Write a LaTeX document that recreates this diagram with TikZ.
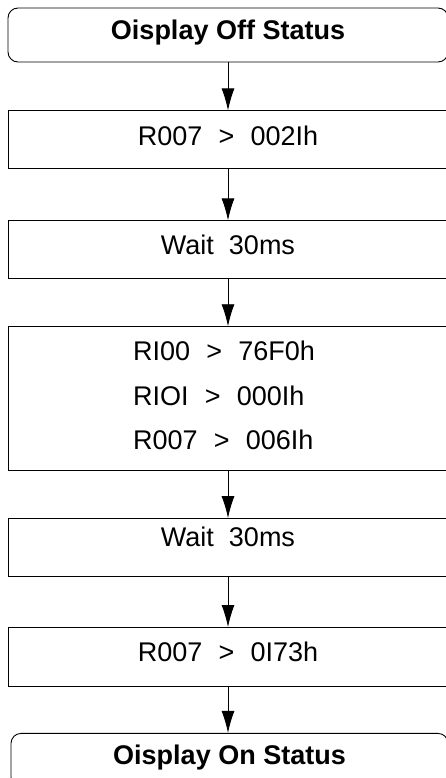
\documentclass[tikz,border=0pt]{standalone}
\usepackage{fontspec}
\setmainfont{Liberation Sans}
\usetikzlibrary{positioning,arrows.meta}
\newcommand{\setto}{\hspace{0.6em}>\hspace{0.6em}}

\begin{document}
\begin{tikzpicture}[auto, node distance=48pt,
    font=\fontsize{27pt}{32pt}\selectfont]
    \tikzstyle{term} = [draw, rounded corners=10pt, line width=0.9pt,
    minimum width=440pt, minimum height=54pt, inner sep=0pt,
    text height=19.7pt, text depth=11pt, font=\fontsize{27pt}{32pt}\selectfont\bfseries]
    \tikzstyle{block} = [draw, rectangle, line width=0.9pt, inner sep=0pt,
    minimum width=440pt, minimum height=58pt, text height=19.7pt, text depth=8pt]
    \tikzstyle{line} = [draw, line width=0.9pt, -{Latex[length=22pt,width=13pt]}]
    \useasboundingbox (0,0) rectangle (446pt,-778pt);
    \node [term] at (228pt,-35pt) (offstat) {Oisplay Off Status};
    \node [block, below=48pt of offstat] (setone) {R007\setto 002Ih};
    \node [block, below=51pt of setone, text depth=10pt] (waitone) {Wait~~30ms};
    \node [block, below=47pt of waitone, minimum height=144pt] (setmany) {};
    \node [align=left, xshift=-4pt, yshift=3pt, inner sep=0pt,
        font=\fontsize{27pt}{44.5pt}\selectfont] (regs) at (setmany.center)
        {RI00\setto 76F0h\\ RIOI\setto 000Ih\\ R007\setto 006Ih};
    \node [block, below=47pt of setmany, text depth=22pt] (waittwo) {Wait~~30ms};
    \node [block, below=50pt of waittwo, minimum height=59pt, text depth=10pt] (settwo) {R007\setto 0I73h};
    \node [term, below=46pt of settwo, xshift=1.5pt, minimum width=437pt] (onstat) {Oisplay On Status};
    % connectors
    \draw [line] (offstat) -- (setone);
    \draw [line] (setone) -- (waitone);
    \draw [line] (waitone) -- (setmany);
    \draw [line] (setmany) -- (waittwo);
    \draw [line] (waittwo) -- (settwo);
    \draw [line] (settwo.south) -- (settwo.south |- onstat.north);
\end{tikzpicture}
\end{document}
